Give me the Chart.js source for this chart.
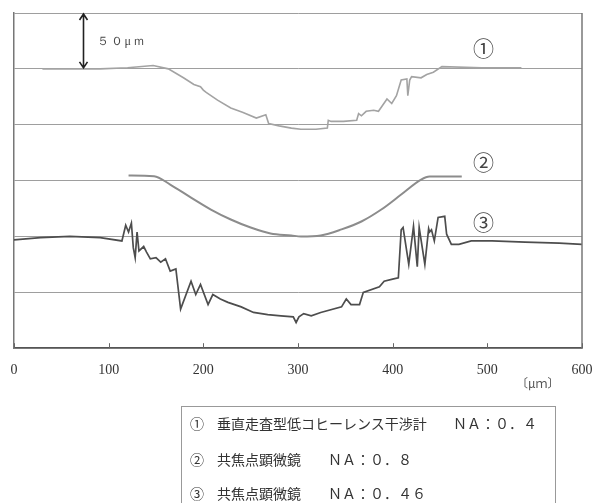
<!DOCTYPE html>
<html>
<head>
<meta charset="utf-8">
<script src="https://cdn.jsdelivr.net/npm/chart.js@4"></script>
<style>
    body { margin: 0; background: #fff; }
    #wrap { position: relative; width: 593px; height: 503px; overflow: hidden; }
    #legendBox {
        position: absolute; left: 181px; top: 406px; width: 375px; height: 110px;
        border: 1px solid #999; box-sizing: border-box;
        font-family: "Noto Sans CJK JP", sans-serif; font-size: 14px; color: #333;
    }
    #legendBox div { position: absolute; left: 8px; white-space: pre; }
    #legendBox span.n { display: inline-block; width: 27px; }
    #legendBox span.na { position: absolute; top: 0; }
    #unit {
        position: absolute; left: 516px; top: 374px;
        font-family: "Noto Sans CJK JP", serif; font-size: 12px; color: #555;
    }
</style>
</head>
<body>
<div id="wrap">
    <canvas id="profileChart" width="593" height="503"></canvas>
    <div id="unit">〔μｍ〕</div>
    <div id="legendBox">
        <div style="top:6px"><span class="n">①</span>垂直走査型低コヒーレンス干渉計<span class="na" style="left:263px">ＮＡ：０．４</span></div>
        <div style="top:42px"><span class="n">②</span>共焦点顕微鏡<span class="na" style="left:138px">ＮＡ：０．８</span></div>
        <div style="top:76px"><span class="n">③</span>共焦点顕微鏡<span class="na" style="left:138px">ＮＡ：０．４６</span></div>
    </div>
</div>
<script>
// x in µm, y in µm (arbitrary vertical offset between profiles)
const xTicks = [0, 100, 200, 300, 400, 500, 600];

const x1 = [30, 60, 91, 120, 147, 163, 179, 190, 197, 200, 203, 215, 229, 242, 256, 266, 269, 280, 293, 303, 319, 331, 332, 335, 348, 362, 364, 367, 372, 380, 385, 394, 399, 404, 409, 415, 416, 418, 420, 430, 436, 443, 452, 494, 536];
const y1 = [250, 250, 250, 251, 253, 250, 242, 236, 234, 231, 229, 222, 215, 211, 206, 209, 201, 199, 197, 196, 196, 197, 204, 203, 203, 204, 210, 208, 212, 213, 212, 223, 219, 226, 240, 241, 226, 240, 243, 242, 245, 247, 252, 251, 251];

const x2 = [121, 148, 165, 187, 208, 229, 250, 271, 293, 303, 324, 346, 367, 388, 409, 430, 439, 473];
const y2 = [154.5, 154, 146.4, 134.8, 124.1, 115.2, 108, 102.7, 100.9, 100, 100.9, 106.3, 113.4, 124.1, 137.5, 150.9, 153.6, 153.6];

const x3 = [0, 28, 59, 91, 114, 118, 121, 124, 126, 128, 130, 132, 137, 140, 144, 150, 155, 160, 165, 171, 176, 187, 192, 197, 205, 210, 218, 226, 240, 253, 268, 282, 295, 298, 301, 306, 314, 324, 346, 351, 356, 365, 369, 386, 391, 401, 406, 409, 411, 417, 422, 426, 428, 434, 438, 439, 441, 444, 448, 455, 457, 462, 470, 483, 505, 540, 576, 600];
const y3 = [97, 99, 100, 99, 96, 110, 104, 112, 90, 81, 104, 87, 91, 86, 80, 81, 77, 80, 69, 71, 35, 60, 48, 57, 39, 48, 44, 41, 37, 32, 30, 29, 28, 23, 28, 31, 29, 32, 37, 44, 39, 39, 50, 55, 60, 62, 63, 106, 108, 75, 109, 73, 108, 75, 107, 104, 106, 96, 117, 118, 102, 93, 93, 96, 96, 95, 94, 93];

const labels = [
    { text: '①', x: 496, y: 269 },
    { text: '②', x: 496, y: 167 },
    { text: '③', x: 496, y: 113 }
];

function toPoints(xs, ys) {
    return xs.map((x, i) => ({ x: x, y: ys[i] }));
}

// frame, inward ticks, circled labels, 50 µm arrow
const extrasPlugin = {
    id: 'extras',
    afterDraw(chart) {
        const ctx = chart.ctx;
        const xs = chart.scales.x;
        const ys = chart.scales.y;
        const area = chart.chartArea;
        ctx.save();

        ctx.strokeStyle = '#777';
        ctx.lineWidth = 1.5;
        ctx.beginPath();
        ctx.moveTo(area.right, area.top);
        ctx.lineTo(area.right, area.bottom);
        ctx.stroke();

        ctx.strokeStyle = '#666';
        ctx.lineWidth = 1;
        xTicks.forEach(v => {
            const px = Math.round(xs.getPixelForValue(v)) + 0.5;
            ctx.beginPath();
            ctx.moveTo(px, area.bottom);
            ctx.lineTo(px, area.bottom - 5);
            ctx.stroke();
        });

        ctx.fillStyle = '#444';
        ctx.font = '21px "Noto Sans CJK JP", sans-serif';
        ctx.textAlign = 'center';
        ctx.textBaseline = 'middle';
        labels.forEach(l => {
            ctx.fillText(l.text, xs.getPixelForValue(l.x), ys.getPixelForValue(l.y));
        });

        // 50 µm scale arrow
        const ax = Math.round(xs.getPixelForValue(73)) + 0.5;
        const aTop = ys.getPixelForValue(300) + 1;
        const aBot = ys.getPixelForValue(250) - 1;
        ctx.strokeStyle = '#222';
        ctx.lineWidth = 1.6;
        ctx.beginPath();
        ctx.moveTo(ax, aTop);
        ctx.lineTo(ax, aBot);
        ctx.moveTo(ax - 4, aTop + 6);
        ctx.lineTo(ax, aTop);
        ctx.lineTo(ax + 4, aTop + 6);
        ctx.moveTo(ax - 4, aBot - 6);
        ctx.lineTo(ax, aBot);
        ctx.lineTo(ax + 4, aBot - 6);
        ctx.stroke();

        ctx.fillStyle = '#444';
        ctx.font = '12px "Liberation Serif", serif';
        ctx.textAlign = 'left';
        ctx.letterSpacing = '2px';
        ctx.fillText('５０μｍ', ax + 13, ys.getPixelForValue(274));
        ctx.restore();
    }
};

new Chart(document.getElementById('profileChart'), {
    type: 'line',
    data: {
        datasets: [
            {
                label: '①',
                data: toPoints(x1, y1),
                borderColor: '#a3a3a3',
                borderWidth: 1.6
            },
            {
                label: '②',
                data: toPoints(x2, y2),
                borderColor: '#8c8c8c',
                borderWidth: 2,
                cubicInterpolationMode: 'monotone'
            },
            {
                label: '③',
                data: toPoints(x3, y3),
                borderColor: '#4d4d4d',
                borderWidth: 1.7
            }
        ]
    },
    options: {
        responsive: false,
        animation: false,
        parsing: false,
        elements: { point: { radius: 0 }, line: { tension: 0 } },
        layout: { padding: { left: 14, right: 11, top: 13, bottom: 110 } },
        plugins: { legend: { display: false }, tooltip: { enabled: false } },
        scales: {
            x: {
                type: 'linear',
                min: 0,
                max: 600,
                afterBuildTicks: axis => { axis.ticks = xTicks.map(v => ({ value: v })); },
                afterFit: axis => { axis.paddingLeft = 0; axis.paddingRight = 0; },
                grid: { display: false, drawTicks: false },
                border: { display: true, color: '#555', width: 1.5 },
                ticks: {
                    padding: 14,
                    color: '#333',
                    maxRotation: 0,
                    font: { family: '"Liberation Serif", serif', size: 14 }
                }
            },
            y: {
                min: 0,
                max: 300,
                ticks: { display: false, stepSize: 50 },
                grid: { color: '#9e9e9e', lineWidth: 1, drawTicks: false },
                border: { display: true, color: '#777', width: 1.5 }
            }
        }
    },
    plugins: [extrasPlugin]
});
</script>
</body>
</html>
